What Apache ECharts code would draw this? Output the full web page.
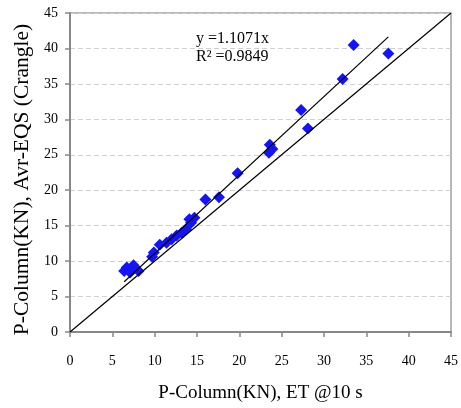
<!DOCTYPE html>
<html>
<head>
<meta charset="utf-8">
<script src="https://cdn.jsdelivr.net/npm/echarts@6/dist/echarts.min.js"></script>
<style>html,body{margin:0;padding:0;background:#fff}#c{width:461px;height:408px}</style>
</head>
<body>
<div id="c"></div>
<script>
var xValues = [6.4, 6.7, 7.1, 7.5, 8.1, 9.7, 9.9, 10.6, 11.4, 12.0, 12.6, 13.2, 13.7, 14.1, 14.3, 14.7, 16.0, 17.6, 19.8, 23.5, 23.9, 23.6, 27.3, 28.1, 32.2, 33.5, 37.6];
var yValues = [8.6, 9.1, 8.4, 9.4, 8.6, 10.6, 11.2, 12.3, 12.6, 13.1, 13.6, 14.0, 14.5, 15.9, 15.4, 16.1, 18.7, 19.0, 22.4, 25.3, 25.8, 26.4, 31.3, 28.7, 35.7, 40.5, 39.3];
var slope = 1.1071;
var equationText = 'y =1.1071x';
var r2Text = 'R² =0.9849';
var axisMin = 0, axisMax = 45, axisStep = 5;
var xName = 'P-Column(KN), ET @10 s';
var yName = 'P-Column(KN), Avr-EQS (Crangle)';

var pts = xValues.map(function(x, i){ return [x, yValues[i]]; });
var xMin = Math.min.apply(null, xValues), xMax = Math.max.apply(null, xValues);
var trend = [[xMin, slope * xMin], [xMax, slope * xMax]];
var identity = [[axisMin, axisMin], [axisMax, axisMax]];

var font = '"Liberation Serif", "Times New Roman", serif';
var chart = echarts.init(document.getElementById('c'), null, {renderer: 'canvas'});
chart.setOption({
  animation: false,
  grid: {left: 70, right: 8, top: 13, bottom: 72, show: true, borderColor: '#a0a0a0', borderWidth: 1.5},
  xAxis: {
    type: 'value', min: axisMin, max: axisMax, interval: axisStep,
    name: xName, nameLocation: 'middle', nameGap: 52,
    nameTextStyle: {fontFamily: font, fontSize: 19, color: '#000'},
    axisLine: {show: true, lineStyle: {color: '#888', width: 2}},
    axisTick: {show: true, length: 5, lineStyle: {color: '#888', width: 1.5}},
    axisLabel: {fontFamily: font, fontSize: 14, color: '#000', margin: 22},
    splitLine: {show: false}
  },
  yAxis: {
    type: 'value', min: axisMin, max: axisMax, interval: axisStep,
    name: yName, nameLocation: 'middle', nameGap: 32,
    nameTextStyle: {fontFamily: font, fontSize: 21.5, color: '#000', padding: [0, 14, 0, 0]},
    axisLine: {show: true, lineStyle: {color: '#888', width: 2}},
    axisTick: {show: true, length: 5, lineStyle: {color: '#888', width: 1.5}},
    axisLabel: {fontFamily: font, fontSize: 14, color: '#000', margin: 12},
    splitLine: {show: true, lineStyle: {color: '#d0d0d0', type: [5, 3], width: 1}}
  },
  series: [
    {type: 'line', data: identity, symbol: 'none', lineStyle: {color: '#000', width: 1.2}, z: 3},
    {type: 'line', data: trend, symbol: 'none', lineStyle: {color: '#000', width: 1.2}, z: 3},
    {type: 'scatter', data: pts, symbol: 'diamond', symbolSize: 12, itemStyle: {color: '#1414f5', opacity: 1}, z: 2}
  ],
  graphic: [
    {type: 'text', left: 196, top: 31, style: {text: equationText, font: '16px ' + font, fill: '#000'}},
    {type: 'text', left: 196, top: 49, style: {text: r2Text, font: '16px ' + font, fill: '#000'}}
  ]
});
</script>
</body>
</html>
